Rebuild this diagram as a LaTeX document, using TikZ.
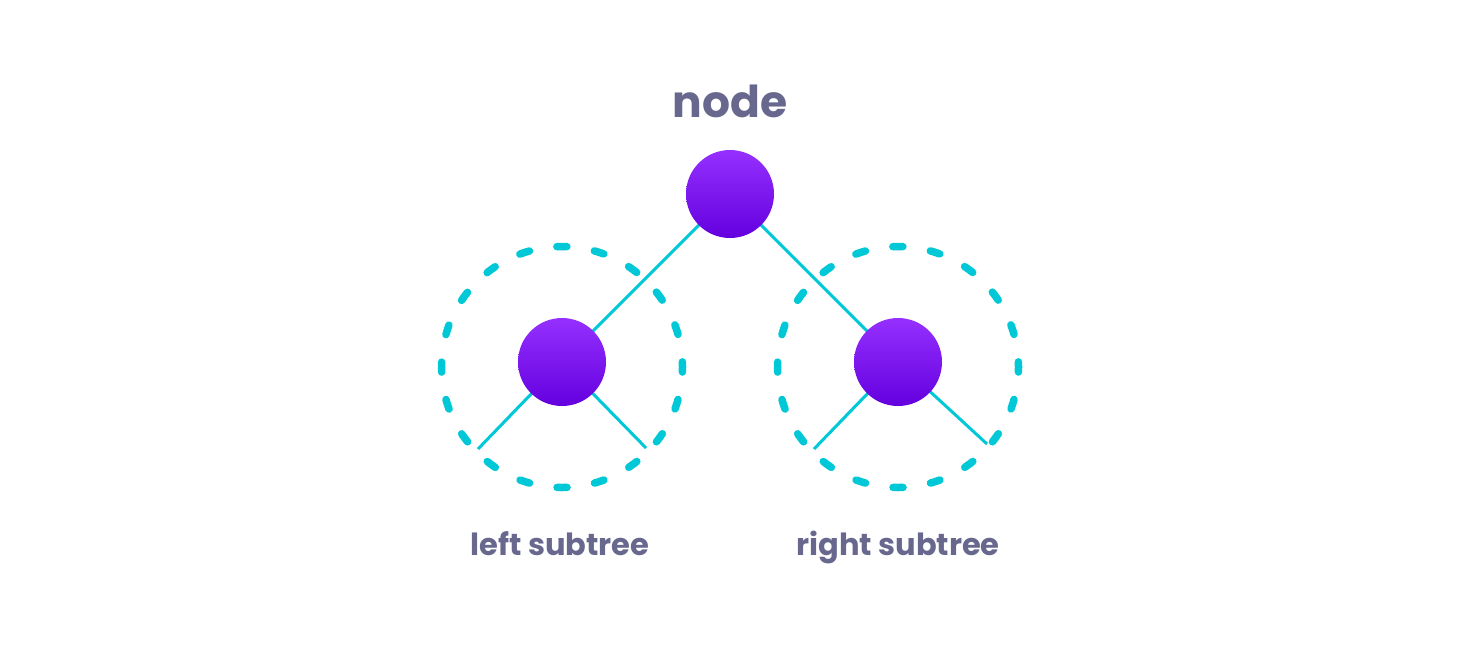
\documentclass[tikz,border=0pt]{standalone}
\usepackage{fontspec}
\setmainfont{Poppins}
\definecolor{txt}{HTML}{68688F}
\definecolor{cyanl}{HTML}{00C8D6}
\definecolor{purt}{HTML}{9530FF}
\definecolor{purb}{HTML}{6400DE}
\tikzset{
  ball/.style={circle, minimum size=88pt, inner sep=0pt, top color=purt, bottom color=purb, draw=none},
  edge/.style={draw=cyanl, line width=3pt},
  subtree/.style={draw=cyanl, line width=7.5pt, line cap=round, dash pattern=on 10pt off 27.85pt, dash phase=5pt},
  lab/.style={text=txt, font=\bfseries, anchor=base},
}
\begin{document}
\begin{tikzpicture}[x=1pt,y=-1pt]
\useasboundingbox (0,0) rectangle (1460,646);
\coordinate (lc) at (562,367);
\coordinate (rc) at (898,367);
\draw[subtree] (lc) circle (120.5);
\draw[subtree] (rc) circle (120.5);
\coordinate (ll) at (478,449);
\coordinate (lr) at (646,448);
\coordinate (rl) at (814,449);
\coordinate (rr) at (987,444);
\coordinate (top) at (730,194);
\coordinate (lch) at (562,362);
\coordinate (rch) at (898,362);
\draw[edge] (top) -- (lch);
\draw[edge] (top) -- (rch);
\draw[edge] (lch) -- (ll);
\draw[edge] (lch) -- (lr);
\draw[edge] (rch) -- (rl);
\draw[edge] (rch) -- (rr);
\node[ball] (n0) at (top) {};
\node[ball] (n1) at (lch) {};
\node[ball] (n2) at (rch) {};
\node[lab, font=\bfseries\fontsize{44}{50}\selectfont] (t0) at (730,117) {node};
\node[lab, font=\bfseries\fontsize{30.5}{36}\selectfont] (t1) at (560,555) {left subtree};
\node[lab, font=\bfseries\fontsize{30.5}{36}\selectfont] (t2) at (898,555) {right subtree};
\end{tikzpicture}
\end{document}
